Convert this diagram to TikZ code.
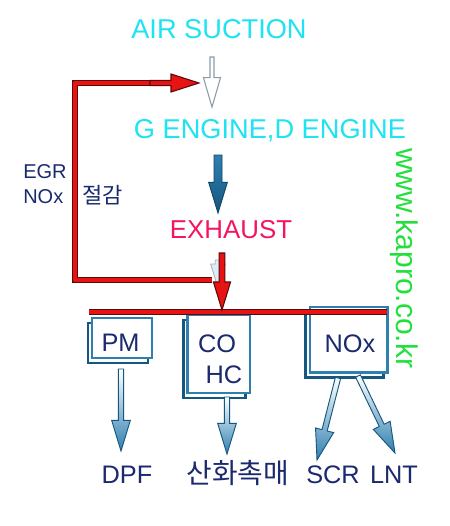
\documentclass[tikz,border=0pt]{standalone}
\usepackage{fontspec}
\setmainfont{Liberation Sans}
\newfontfamily\krfont[Scale=1.1]{Noto Sans CJK KR}
\usetikzlibrary{calc,shadows}
\definecolor{cyantxt}{HTML}{1EE3F2}
\definecolor{navytxt}{HTML}{1B2A6E}
\definecolor{exhtxt}{HTML}{F5145F}
\definecolor{webgreen}{HTML}{22E03C}
\definecolor{redmain}{HTML}{E81414}
\definecolor{reddark}{HTML}{5A0A0A}
\definecolor{bluedark}{HTML}{14577F}
\definecolor{bluemid}{HTML}{2F7FB0}
\definecolor{bluelight}{HTML}{A8D2EA}
\definecolor{greyline}{HTML}{8C9CA8}
% #1 from, #2 to, #3 shaft half width, #4 head half width, #5 head length, #6 style
\newcommand\fatarrow[6]{%
  \coordinate (fahead) at ($(#2)!#5!(#1)$);
  \path[#6] ($(#1)!#3!90:(#2)$) -- ($(fahead)!#3!-90:(#1)$) -- ($(fahead)!#4!-90:(#1)$)
    -- (#2) -- ($(fahead)!#4!90:(#1)$) -- ($(fahead)!#3!90:(#1)$) -- ($(#1)!#3!-90:(#2)$) -- cycle;
}
\begin{document}
\begin{tikzpicture}[x=0.75pt,y=-0.75pt,
  cyanT/.style={font=\fontsize{20.4pt}{24pt}\selectfont, text=cyantxt, inner sep=0pt},
  exhT/.style={font=\fontsize{19.4pt}{23pt}\selectfont, text=exhtxt, inner sep=0pt},
  navyT/.style={font=\fontsize{19pt}{23pt}\selectfont, text=navytxt, inner sep=0pt},
  egrT/.style={font=\fontsize{15pt}{18pt}\selectfont, text=navytxt, inner sep=0pt},
  webT/.style={font=\fontsize{22.5pt}{26pt}\selectfont, text=webgreen, inner sep=0pt},
  boxfront/.style={draw=bluemid, line width=2pt, fill=white, inner sep=0pt,
    copy shadow={shadow xshift=-3pt, shadow yshift=-3.75pt, draw=bluedark, line width=2.2pt, fill=white}},
  redline/.style={draw=redmain, line width=3pt, line join=round, preaction={draw=reddark, line width=4.6pt}},
  blueArr/.style={top color=white, bottom color=bluemid, draw=bluedark, line width=0.7pt},
  darkArr/.style={top color=bluemid, bottom color=bluedark, draw=bluedark!80!black, line width=0.7pt},
  airArr/.style={fill=white, draw=greyline, line width=0.8pt},
  ghostArr/.style={fill=bluelight!40, draw=greyline!80, line width=0.6pt},
  redArr/.style={fill=redmain, draw=reddark, line width=0.8pt}
]
\useasboundingbox[fill=white] (0,0) rectangle (450,526);

% texts
\node[cyanT, anchor=base] (air) at (219,38) {AIR SUCTION};
\node[cyanT, anchor=base] (engine) at (270,138) {G ENGINE,D ENGINE};
\node[exhT, anchor=base] (exhaust) at (231,238) {EXHAUST};
\node[egrT, anchor=base west] (egr) at (23,178) {EGR};
\node[egrT, anchor=base west] (nox) at (23,203) {NOx};
\node[egrT, anchor=base west] (jeolgam) at (82,203) {\krfont 절감};
\node[webT, rotate=-90, anchor=base west] (web) at (396,148) {www.kapro.co.kr};

% boxes
\node[boxfront, minimum width=45pt, minimum height=30pt] (pmbox) at (122,338) {};
\node[boxfront, minimum width=47pt, minimum height=58.5pt] (cobox) at (218.5,354) {};
\node[boxfront, minimum width=58pt, minimum height=49pt] (noxbox) at (348.5,339.5) {};
\node[navyT, anchor=base] (pm) at (120.5,351) {PM};
\node[navyT, anchor=base] (co) at (217,352) {CO};
\node[navyT, anchor=base] (hc) at (224,383) {HC};
\node[navyT, anchor=base] (noxt) at (350,352) {NOx};

% bottom texts
\node[navyT, anchor=base] (dpf) at (127,483) {DPF};
\node[navyT, anchor=base] (oxi) at (238,483) {\krfont 산화촉매};
\node[navyT, anchor=base] (scr) at (333,483) {SCR};
\node[navyT, anchor=base] (lnt) at (394,483) {LNT};

% arrow end coordinates
\coordinate (airS) at (212,57);   \coordinate (airE) at (212,107);
\coordinate (engS) at (218,155);  \coordinate (engE) at (218,213);
\coordinate (ghS) at (218,260);   \coordinate (ghE) at (218,288);
\coordinate (exS) at (222,253);   \coordinate (exE) at (222,310);
\coordinate (pmS) at (121,369);   \coordinate (pmE) at (121,451);
\coordinate (coS) at (227,397);   \coordinate (coE) at (227,454);
\coordinate (scrS) at (338,378);  \coordinate (scrE) at (317,460);
\coordinate (lntS) at (358,376);  \coordinate (lntE) at (395,453);
\coordinate (egrA) at (212,280);  \coordinate (egrB) at (75,280);
\coordinate (egrC) at (75,83);    \coordinate (egrD) at (175,83);
\coordinate (egrH) at (150,83);   \coordinate (egrT) at (199,83);
\coordinate (barL) at (89,312);   \coordinate (barR) at (387,312);

% arrows
\fatarrow{airS}{airE}{1.5pt}{6.4pt}{22pt}{airArr}
\fatarrow{engS}{engE}{3pt}{7pt}{23pt}{darkArr}
\fatarrow{ghS}{ghE}{2pt}{5.5pt}{18pt}{ghostArr}
\draw[redline] (egrA) -- (egrB) -- (egrC) -- (egrD);
\fatarrow{egrH}{egrT}{1.9pt}{6.75pt}{21pt}{redArr}
\draw[redline] (barL) -- (barR);
\fatarrow{exS}{exE}{2.2pt}{6.4pt}{21pt}{redArr}
\fatarrow{pmS}{pmE}{2pt}{7pt}{23pt}{blueArr}
\fatarrow{coS}{coE}{2pt}{7pt}{23pt}{blueArr}
\fatarrow{scrS}{scrE}{2pt}{7pt}{23pt}{blueArr}
\fatarrow{lntS}{lntE}{2pt}{7pt}{23pt}{blueArr}
\end{tikzpicture}
\end{document}
